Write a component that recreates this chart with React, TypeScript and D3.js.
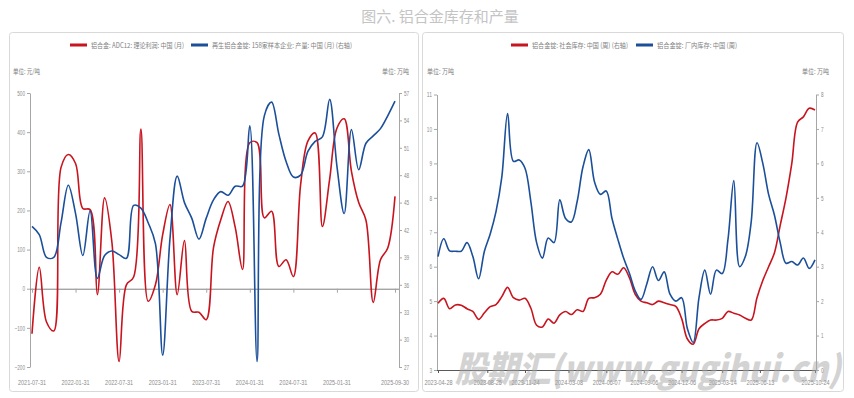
import React, { useEffect, useRef } from 'react';
import * as d3 from 'd3';

const TITLE = '图六. 铝合金库存和产量';

// left panel: monthly
const PROFIT_MONTHS = [
  '2021-07-31', '2021-08-31', '2021-09-30', '2021-10-31', '2021-11-30', '2021-12-31',
  '2022-01-31', '2022-02-28', '2022-03-31', '2022-04-30', '2022-05-31', '2022-06-30',
  '2022-07-31', '2022-08-31', '2022-09-30', '2022-10-31', '2022-11-30', '2022-12-31',
  '2023-01-31', '2023-02-28', '2023-03-31', '2023-04-30', '2023-05-31', '2023-06-30',
  '2023-07-31', '2023-08-31', '2023-09-30', '2023-10-31', '2023-11-30', '2023-12-31',
  '2024-01-31', '2024-02-29', '2024-03-31', '2024-04-30', '2024-05-31', '2024-06-30',
  '2024-07-31', '2024-08-31', '2024-09-30', '2024-10-31', '2024-11-30', '2024-12-31',
  '2025-01-31', '2025-02-28', '2025-03-31', '2025-04-30', '2025-05-31', '2025-06-30',
  '2025-07-31', '2025-08-31', '2025-09-30'
];
const PROFIT = [
  -115, 55, -85, -108, 310, 343, 320, 205, 202, -15, 232, 120, -186, 10, 30, 408, -32,
  10, 138, 215, -15, 123, -58, -60, -79, 105, 176, 223, 156, 49, 373, 373, 181, 198,
  57, 74, 31, 266, 377, 398, 159, 280, 410, 434, 300, 220, 175, -35, 74, 104, 236
];
const OUTPUT = [
  42.4, 41.5, 39.0, 39.0, 42.8, 46.9, 43.8, 39.2, 44.1, 36.7, 39.2, 39.7, 39.3, 38.9,
  44.7, 44.4, 42.8, 40.5, 28.3, 41.0, 47.9, 45.0, 43.3, 41.0, 43.3, 45.3, 46.2, 45.8,
  46.8, 46.8, 53.4, 27.6, 54.5, 56.0, 52.5, 49.5, 47.8, 48.0, 50.6, 51.7, 52.2, 56.3,
  49.0, 43.8, 53.0, 48.6, 51.5, 52.3, 53.1, 54.5, 56.1
];
const LEFT_X_TICKS = [
  '2021-07-31', '2022-01-31', '2022-07-31', '2023-01-31', '2023-07-31',
  '2024-01-31', '2024-07-31', '2025-01-31', '2025-09-30'
];
const PROFIT_TICKS = [-200, -100, 0, 100, 200, 300, 400, 500];
const OUTPUT_TICKS = [27, 30, 33, 36, 39, 42, 45, 48, 51, 54, 57];

// right panel: weekly (sampled every two weeks)
const STOCK_WEEKS = [
  '2023-04-28', '2023-05-12', '2023-05-26', '2023-06-09', '2023-06-23', '2023-07-07',
  '2023-07-21', '2023-08-04', '2023-08-18', '2023-09-01', '2023-09-15', '2023-09-29',
  '2023-10-13', '2023-10-27', '2023-11-10', '2023-11-24', '2023-12-08', '2023-12-22',
  '2024-01-05', '2024-01-19', '2024-02-02', '2024-02-16', '2024-03-01', '2024-03-15',
  '2024-03-29', '2024-04-12', '2024-04-26', '2024-05-10', '2024-05-24', '2024-06-07',
  '2024-06-21', '2024-07-05', '2024-07-19', '2024-08-02', '2024-08-16', '2024-08-30',
  '2024-09-13', '2024-09-27', '2024-10-11', '2024-10-25', '2024-11-08', '2024-11-22',
  '2024-12-06', '2024-12-20', '2025-01-03', '2025-01-17', '2025-01-31', '2025-02-14',
  '2025-02-28', '2025-03-14', '2025-03-28', '2025-04-11', '2025-04-25', '2025-05-09',
  '2025-05-23', '2025-06-06', '2025-06-20', '2025-07-04', '2025-07-18', '2025-08-01',
  '2025-08-15', '2025-08-29', '2025-09-12', '2025-09-26', '2025-10-10', '2025-10-24'
];
const FACTORY_STOCK = [
  6.29, 6.81, 6.46, 6.45, 6.45, 6.7, 6.3, 5.65, 6.45, 6.95, 7.6, 8.6, 10.45, 9.06, 9.1,
  8.86, 7.9, 6.7, 6.25, 6.83, 6.7, 7.94, 7.4, 7.3, 7.9, 8.9, 9.4, 8.45, 8.1, 8.2, 7.4,
  6.8, 6.25, 5.81, 5.3, 5.05, 5.5, 6.0, 5.6, 5.85, 5.2, 5.0, 5.1, 4.2, 3.8, 5.1, 5.9,
  5.2, 5.9, 5.8, 6.8, 8.5, 6.0, 6.3, 7.3, 9.6, 9.0, 8.1, 7.5, 6.7, 6.1, 6.15, 6.05,
  6.25, 5.95, 6.2
];
const SOCIAL_STOCK = [
  1.94, 2.08, 1.78, 1.89, 1.88, 1.78, 1.7, 1.47, 1.66, 1.84, 1.9, 2.13, 2.4, 2.1, 2.03,
  2.08, 1.8, 1.3, 1.25, 1.48, 1.36, 1.6, 1.7, 1.61, 1.75, 1.7, 2.08, 2.1, 2.2, 2.6,
  2.85, 2.78, 2.97, 2.68, 2.2, 2.0, 1.95, 1.9, 2.0, 1.95, 1.9, 1.85, 1.5, 0.9, 0.75,
  1.2, 1.35, 1.45, 1.45, 1.5, 1.7, 1.65, 1.6, 1.5, 1.45, 2.1, 2.6, 3.0, 3.4, 4.2, 5.0,
  6.0, 7.2, 7.35, 7.6, 7.55
];
const RIGHT_X_TICKS = [
  '2023-04-28', '2023-08-25', '2023-11-24', '2024-03-08', '2024-06-07',
  '2024-09-06', '2024-12-06', '2025-03-14', '2025-06-13', '2025-10-24'
];
const FACTORY_TICKS = [3, 4, 5, 6, 7, 8, 9, 10, 11];
const SOCIAL_TICKS = [0, 1, 2, 3, 4, 5, 6, 7, 8];

const RED = '#c8141e';
const BLUE = '#1b4f9a';
const NUM_FONT = '"Liberation Sans", Arial, sans-serif';
const CJK_FONT = '"Noto Sans CJK SC", sans-serif';
const TICK_TEXT = '#8c8c8c';

const squeeze = (sel: any, perChar: number) =>
  sel
    .attr('textLength', function (this: SVGTextElement) {
      return (this.textContent || '').length * perChar;
    })
    .attr('lengthAdjust', 'spacingAndGlyphs');

const styleAxis = (g: any, color: string) => {
  g.attr('font-family', NUM_FONT).attr('font-size', 7);
  g.select('.domain').attr('stroke', color);
  g.selectAll('.tick line').attr('stroke', color);
  g.selectAll('.tick text').attr('fill', TICK_TEXT).call(squeeze, 2.6);
};

export default function App() {
  const svgRef = useRef<SVGSVGElement>(null);

  useEffect(() => {
    if (!svgRef.current) return;
    const svg = d3.select(svgRef.current);
    svg.selectAll('*').remove();
    const parse = d3.timeParse('%Y-%m-%d');

    svg
      .append('text')
      .attr('x', 440)
      .attr('y', 22)
      .attr('text-anchor', 'middle')
      .attr('font-family', CJK_FONT)
      .attr('font-size', 15)
      .attr('fill', '#c4c4c4')
      .text(TITLE);

    // panel frames
    [
      [9.5, 409],
      [422.5, 421]
    ].forEach(([x, w]) => {
      svg
        .append('rect')
        .attr('x', x)
        .attr('y', 32.5)
        .attr('width', w)
        .attr('height', 359)
        .attr('rx', 3)
        .attr('fill', '#fff')
        .attr('stroke', '#d9d9d9');
    });

    const legend = (x: number, color: string, label: string, len: number) => {
      svg
        .append('rect')
        .attr('x', x)
        .attr('y', 43.5)
        .attr('width', 17)
        .attr('height', 3)
        .attr('fill', color);
      svg
        .append('text')
        .attr('x', x + 21)
        .attr('y', 47.5)
        .attr('font-family', CJK_FONT)
        .attr('font-size', 7)
        .attr('fill', '#808080')
        .attr('textLength', len)
        .attr('lengthAdjust', 'spacingAndGlyphs')
        .text(label);
    };

    const unit = (x: number, anchor: string, label: string) => {
      svg
        .append('text')
        .attr('x', x)
        .attr('y', 74)
        .attr('text-anchor', anchor)
        .attr('font-family', CJK_FONT)
        .attr('font-size', 7)
        .attr('fill', '#808080')
        .attr('textLength', 27)
        .attr('lengthAdjust', 'spacingAndGlyphs')
        .text(label);
    };

    // ---------- left panel ----------
    legend(70, RED, '铝合金: ADC12: 理论利润: 中国 (月)', 93);
    legend(191, BLUE, '再生铝合金锭: 158家样本企业: 产量: 中国 (月) (右轴)', 140);
    unit(13, 'start', '单位: 元/吨');
    unit(409, 'end', '单位: 万吨');

    const xA = d3.scalePoint<string>().domain(PROFIT_MONTHS).range([32, 395]);
    const yA = d3.scaleLinear().domain([-200, 500]).range([367, 93]);
    const yB = d3.scaleLinear().domain([27, 57]).range([367, 93]);

    svg
      .append('g')
      .attr('transform', 'translate(30,0)')
      .call(d3.axisLeft(yA).tickValues(PROFIT_TICKS).tickSize(3).tickSizeOuter(0).tickPadding(2))
      .call(styleAxis, '#a6a6a6');

    svg
      .append('g')
      .attr('transform', 'translate(399,0)')
      .call(d3.axisRight(yB).tickValues(OUTPUT_TICKS).tickSize(3).tickSizeOuter(0).tickPadding(2))
      .call(styleAxis, '#a6a6a6');

    const zeroAxis = svg
      .append('g')
      .attr('transform', `translate(0,${yA(0)})`)
      .call(
        d3
          .axisBottom(xA)
          .tickValues(LEFT_X_TICKS)
          .tickSize(4)
          .tickSizeOuter(0)
          .tickFormat(() => '')
      );
    zeroAxis.select('.domain').attr('stroke', '#808080').attr('d', 'M30,0.5H399');
    zeroAxis.selectAll('.tick line').attr('stroke', '#a6a6a6');

    svg
      .append('g')
      .selectAll('text')
      .data(LEFT_X_TICKS)
      .join('text')
      .attr('x', (d) => xA(d) as number)
      .attr('y', 385)
      .attr('text-anchor', 'middle')
      .attr('font-family', NUM_FONT)
      .attr('font-size', 7)
      .attr('fill', TICK_TEXT)
      .text((d) => d)
      .call(squeeze, 2.8);

    const profitLine = d3
      .line<number>()
      .x((_, i) => xA(PROFIT_MONTHS[i]) as number)
      .y((d) => yA(d))
      .curve(d3.curveCatmullRom.alpha(0.5));
    const outputLine = d3
      .line<number>()
      .x((_, i) => xA(PROFIT_MONTHS[i]) as number)
      .y((d) => yB(d))
      .curve(d3.curveCatmullRom.alpha(0.5));

    svg
      .append('path')
      .attr('d', profitLine(PROFIT) || '')
      .attr('fill', 'none')
      .attr('stroke', RED)
      .attr('stroke-width', 1.6);
    svg
      .append('path')
      .attr('d', outputLine(OUTPUT) || '')
      .attr('fill', 'none')
      .attr('stroke', BLUE)
      .attr('stroke-width', 1.6);

    // ---------- right panel ----------
    legend(511, RED, '铝合金锭: 社会库存: 中国 (周) (右轴)', 96);
    legend(636, BLUE, '铝合金锭: 厂内库存: 中国 (周)', 80);
    unit(427, 'start', '单位: 万吨');
    unit(829, 'end', '单位: 万吨');

    const weeks = STOCK_WEEKS.map((d) => parse(d) as Date);
    const xC = d3
      .scaleTime()
      .domain(d3.extent(weeks) as [Date, Date])
      .range([438, 815]);
    const yC = d3.scaleLinear().domain([3, 11]).range([370, 94.5]);
    const yD = d3.scaleLinear().domain([0, 8]).range([370, 94.5]);

    svg
      .append('g')
      .attr('transform', 'translate(437,0)')
      .call(d3.axisLeft(yC).tickValues(FACTORY_TICKS).tickSize(3).tickSizeOuter(0).tickPadding(2))
      .call(styleAxis, '#a6a6a6');
    svg
      .append('g')
      .attr('transform', 'translate(816,0)')
      .call(d3.axisRight(yD).tickValues(SOCIAL_TICKS).tickSize(3).tickSizeOuter(0).tickPadding(2))
      .call(styleAxis, '#a6a6a6');

    const bottom = svg
      .append('g')
      .attr('transform', 'translate(0,370)')
      .call(
        d3
          .axisBottom(xC)
          .tickValues(RIGHT_X_TICKS.map((d) => parse(d) as Date))
          .tickSize(3)
          .tickSizeOuter(0)
          .tickPadding(7)
          .tickFormat((d) => d3.timeFormat('%Y-%m-%d')(d as Date))
      );
    bottom.attr('font-family', NUM_FONT).attr('font-size', 7);
    bottom.select('.domain').attr('stroke', '#595959').attr('d', 'M437,0.5H816');
    bottom.selectAll('.tick line').attr('stroke', '#595959');
    bottom.selectAll('.tick text').attr('fill', TICK_TEXT).call(squeeze, 2.8);

    const socialLine = d3
      .line<number>()
      .x((_, i) => xC(weeks[i]))
      .y((d) => yD(d))
      .curve(d3.curveCatmullRom.alpha(0.5));
    const factoryLine = d3
      .line<number>()
      .x((_, i) => xC(weeks[i]))
      .y((d) => yC(d))
      .curve(d3.curveCatmullRom.alpha(0.5));

    svg
      .append('path')
      .attr('d', socialLine(SOCIAL_STOCK) || '')
      .attr('fill', 'none')
      .attr('stroke', RED)
      .attr('stroke-width', 1.6);
    svg
      .append('path')
      .attr('d', factoryLine(FACTORY_STOCK) || '')
      .attr('fill', 'none')
      .attr('stroke', BLUE)
      .attr('stroke-width', 1.6);

    // watermark
    svg
      .append('text')
      .attr('x', 455)
      .attr('y', 382)
      .attr('font-family', CJK_FONT)
      .attr('font-size', 36)
      .attr('font-weight', 900)
      .attr('font-style', 'italic')
      .attr('fill', '#a8a8a8')
      .attr('opacity', 0.5)
      .attr('textLength', 386)
      .attr('lengthAdjust', 'spacingAndGlyphs')
      .text('股期汇(www.gugihui.cn)');
  }, []);

  return (
    <div style={{ position: 'absolute', left: 0, top: 0 }}>
      <svg ref={svgRef} width={854} height={398} />
    </div>
  );
}
